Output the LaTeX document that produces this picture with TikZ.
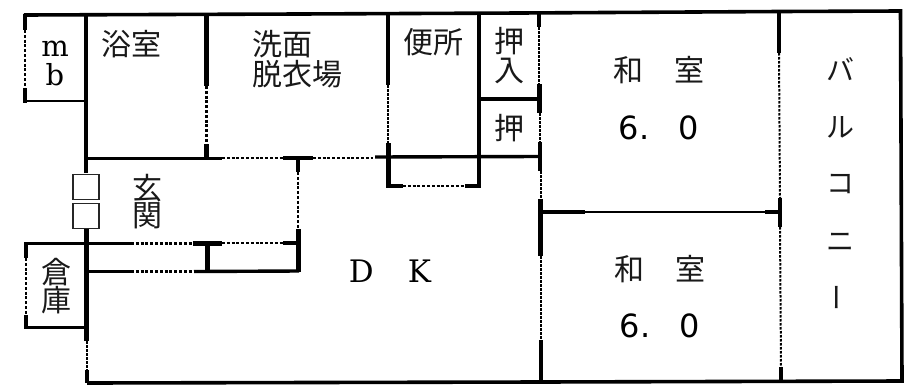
\documentclass[tikz,border=0pt]{standalone}
\usepackage{fontspec}
\newfontfamily\jpfont{Noto Sans CJK JP}
\newfontfamily\latinfont{DejaVu Serif}
\newfontfamily\numfont{DejaVu Sans}
\tikzset{
  x=1pt,y=-1pt,
  heavy/.style={line width=4.8pt,black,line cap=butt},
  wallline/.style={line width=3.4pt,black,line cap=square},
  outer/.style={line width=3.6pt,black,line join=miter},
  thinwall/.style={line width=2.4pt,black},
  doorline/.style={line width=2.2pt,black,dash pattern=on 3pt off 1.8pt},
  sliding/.style={line width=2pt,black,dash pattern=on 2.5pt off 1.5pt},
  box/.style={draw=black!85,line width=1.5pt,fill=white,minimum width=26pt,minimum height=25pt,inner sep=0pt},
  jp/.style={font=\jpfont\fontsize{30}{29}\selectfont,inner sep=0pt,align=left,text=black!90},
  kana/.style={font=\jpfont\fontsize{28}{28}\selectfont,inner sep=0pt,text=black!90},
  lat/.style={font=\latinfont\fontsize{29}{29}\selectfont,inner sep=0pt},
  latbig/.style={font=\latinfont\fontsize{31}{31}\selectfont,inner sep=0pt},
  num/.style={font=\numfont\fontsize{32}{32}\selectfont,inner sep=0pt}
}
\begin{document}
\begin{tikzpicture}
\useasboundingbox (0,0) rectangle (912,391);
% outer outline
\draw[outer] (24,15) -- (300,14) -- (520,13) -- (780,11.5) -- (900.5,11) -- (902,381) -- (540,382) -- (87,383);
% mb closet
\draw[heavy] (25,14) -- (25,30);
\draw[doorline] (25,30) -- (25,88);
\draw[heavy] (25,88) -- (25,103);
\draw[thinwall] (24,101) -- (85,101);
\draw[wallline] (86,15) -- (86,158);
\draw[heavy] (86,158) -- (86,173);
% bath / washroom
\draw[heavy] (206.5,15) -- (206.5,86);
\draw[doorline] (206.5,86) -- (206.5,145);
\draw[heavy] (206.5,144) -- (206.5,158);
\draw[wallline] (86,158.5) -- (222,158.5);
\draw[doorline] (222,158) -- (283,158);
\draw[heavy] (283,158) -- (313,158);
\draw[doorline] (313,158) -- (373,158);
\draw[wallline] (375,157) -- (539,156.5);
% corridor stub
\draw[heavy] (298,158) -- (298,172);
\draw[doorline] (298,172) -- (298,230);
\draw[heavy] (298.5,229) -- (298.5,272);
% entrance boxes
\node[box] (post1) at (86,187) {};
\node[box] (post2) at (86,216) {};
% store room
\draw[heavy] (86.5,229) -- (86.5,341);
\draw[sliding] (87,341) -- (87,371);
\draw[heavy] (87,370) -- (87,383);
\draw[wallline] (26,243.5) -- (131,243.5);
\draw[heavy] (26,242) -- (26,258);
\draw[doorline] (26,258) -- (26,315);
\draw[heavy] (26,315) -- (26,329);
\draw[thinwall] (26,327.5) -- (87,327.5);
% shoe shelf / DK recess
\draw[doorline] (131,243.5) -- (193,243.5);
\draw[heavy] (193,243.5) -- (222,243.5);
\draw[doorline] (222,243) -- (283,243);
\draw[heavy] (283,243) -- (298,243);
\draw[wallline] (87,271.5) -- (131,271.5);
\draw[doorline] (131,271.5) -- (193,271.5);
\draw[wallline] (194,271.5) -- (299,271);
\draw[heavy] (207.5,243) -- (207.5,271);
% toilet
\draw[heavy] (388,15) -- (388,85);
\draw[sliding] (388,85) -- (388,143);
\draw[heavy] (388.5,143) -- (388.5,188);
\draw[heavy] (387,186) -- (403,186);
\draw[doorline] (403,186) -- (465,186);
\draw[heavy] (465,186) -- (481,186);
\draw[wallline] (479,15) -- (479,186);
\draw[wallline] (480,99) -- (538,99);
% tatami wall
\draw[heavy] (539,13) -- (539,27);
\draw[sliding] (539,27) -- (539,85);
\draw[heavy] (539.5,84) -- (539.5,113);
\draw[sliding] (540,113) -- (540,142);
\draw[heavy] (540,142) -- (540,171);
\draw[sliding] (540.5,171) -- (540.5,199);
\draw[heavy] (540.5,199) -- (540.5,256);
\draw[sliding] (541,256) -- (541,340);
\draw[heavy] (541,340) -- (541,382);
% balcony wall
\draw[heavy] (779,12) -- (779,53);
\draw[sliding] (779,53) -- (780,198);
\draw[heavy] (780,198) -- (780,227);
\draw[sliding] (780,227) -- (781,367);
\draw[heavy] (781,367) -- (781,381);
% partition
\draw[heavy] (541,212) -- (585,212);
\draw[thinwall] (585,212) -- (765,212);
\draw[heavy] (765,212) -- (779,212);
% labels
\node[lat,anchor=base] (m) at (55,56) {m};
\node[lat,anchor=base] (b) at (55,85) {b};
\node[jp] (bath) at (131,44) {浴室};
\node[jp,anchor=north west] (wash) at (252,30) {洗面\\[1pt]脱衣場};
\node[jp] (wc) at (433.5,42) {便所};
\node[jp] (oshi1) at (509,41) {押};
\node[jp] (iri) at (509,71) {入};
\node[jp] (oshi2) at (509,128) {押};
\node[jp] (gen) at (147,188) {玄};
\node[jp] (kan) at (147,216) {関};
\node[jp] (so) at (56,272) {倉};
\node[jp] (ko) at (56,300) {庫};
\node[latbig,anchor=base] (dk) at (390,282) {D\hspace{34pt}K};
\node[jp] (wa1) at (659,70.5) {和\hspace{31pt}室};
\node[num,anchor=base] (n1) at (659,139) {6.\hspace{29.5pt}0};
\node[jp] (wa2) at (660,269.5) {和\hspace{31pt}室};
\node[num,anchor=base] (n2) at (660,337) {6.\hspace{29.5pt}0};
\node[kana] (ba) at (840,69) {バ};
\node[kana] (ru) at (840,127) {ル};
\node[kana] (koo) at (840,184) {コ};
\node[kana] (ni) at (840,242) {ニ};
\node[kana,rotate=90] (bar) at (841,297) {ー};
\end{tikzpicture}
\end{document}
